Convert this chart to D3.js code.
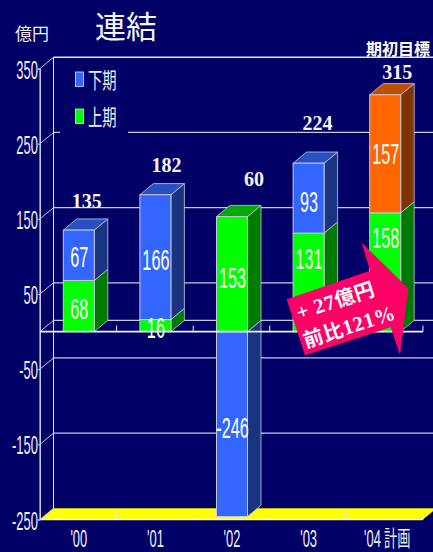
<!DOCTYPE html>
<html lang="ja">
<head>
<meta charset="utf-8">
<title>連結</title>
<script src="https://cdn.jsdelivr.net/npm/d3@7/dist/d3.min.js"></script>
<style>
html,body{margin:0;padding:0;background:#000066;overflow:hidden}
svg{display:block}
</style>
</head>
<body>
<svg id="chart" width="433" height="552"></svg>
<script>
// Consolidated results by fiscal year, in 億円
const categories = ["'00", "'01", "'02", "'03", "'04計画"];
const firstHalf = [68, 16, 153, 131, 158];
const secondHalf = [67, 166, -246, 93, 157];
const totals = [135, 182, 60, 224, 315];
const yTicks = [350, 250, 150, 50, -50, -150, -250];
const barColors = [
  { front: "#00ff00", side: "#007a00", top: "#00aa00" },   // 上期
  { front: "#3366ff", side: "#1a3580", top: "#2850c0" },   // 下期
  { front: "#ff6600", side: "#7f3300", top: "#bf4d00" }    // 計画の下期
];
const legendItems = [["下期", "#3366ff"], ["上期", "#00ff00"]];

// Hand placement of labels relative to their default anchor
const firstLabelShift = [2, 2, 3, -24, -35];
const secondLabelShift = [1, 2, 3, 3, 0];
const totalShift = [[8, -22], [11, -23], [22, -31], [9, -33.5], [12, -15.5]];

const SANS = "'Liberation Sans', Arial, sans-serif";
const SERIF = "'Liberation Serif', 'Times New Roman', serif";
const CJK = "'Noto Sans CJK JP', sans-serif";
const LINE = "#e4e4f0";
const GRID = "#c8c8dc";

const svg = d3.select("#chart");
const left = 40, right = 423, depthX = 13.5, depthY = -11.2, barWidth = 31;

const y = d3.scaleLinear().domain([-250, 350]).range([519.5, 68.5]);
const x = d3.scaleBand().domain(categories).range([left, right]).paddingInner(0).paddingOuter(0);
const barX = c => x(c) + (x.bandwidth() - barWidth) / 2 + 0.5;

// Text compressed horizontally, the way the narrow chart lettering is set
function narrow(g, str, px, py, size, sx, opts = {}) {
  return g.append("text")
    .attr("transform", `translate(${px},${py}) scale(${sx},1)`)
    .attr("text-anchor", opts.anchor || "middle")
    .attr("font-family", opts.family || SANS)
    .attr("font-weight", opts.weight || "normal")
    .attr("font-size", size)
    .attr("fill", opts.fill || "#fff")
    .text(str);
}

// Floor of the plot box
svg.append("polygon")
  .attr("points", [[left, y(-250)], [left + depthX, y(-250) + depthY], [right + depthX, y(-250) + depthY], [right, y(-250)]].join(" "))
  .attr("fill", "#ffff00");

// Back wall gridlines
const grid = svg.append("g");
grid.selectAll("line.back").data(yTicks.filter(t => t !== -250 && t !== 350)).join("line")
  .attr("x1", left + depthX).attr("x2", 433)
  .attr("y1", d => y(d) + depthY).attr("y2", d => y(d) + depthY)
  .attr("stroke", GRID).attr("stroke-width", 1.2);
grid.append("line")
  .attr("x1", left + depthX).attr("x2", 433)
  .attr("y1", y(0) + depthY).attr("y2", y(0) + depthY)
  .attr("stroke", GRID).attr("stroke-width", 1.2);
grid.append("line")
  .attr("x1", left + depthX).attr("x2", 433)
  .attr("y1", y(350) + depthY).attr("y2", y(350) + depthY)
  .attr("stroke", LINE).attr("stroke-width", 1.6);
grid.append("line")
  .attr("x1", left + depthX).attr("x2", left + depthX)
  .attr("y1", y(350) + depthY).attr("y2", y(-250) + depthY)
  .attr("stroke", LINE);

// Legend panel interrupts the 250 gridline
svg.append("rect").attr("x", 60).attr("y", 124).attr("width", 68).attr("height", 14).attr("fill", "#000066");

// Left wall: ticks, connectors to the back wall and the front vertical
const yAxis = d3.axisLeft(y).tickValues(yTicks).tickSize(2).tickFormat("");
svg.append("g").attr("transform", `translate(${left},0)`).call(yAxis)
  .call(g => g.selectAll("path,line").attr("stroke", GRID));
svg.append("g").selectAll("line").data(yTicks).join("line")
  .attr("x1", left).attr("x2", left + depthX)
  .attr("y1", d => y(d)).attr("y2", d => y(d) + depthY)
  .attr("stroke", GRID);
svg.append("line").attr("x1", left).attr("x2", left + depthX)
  .attr("y1", y(0)).attr("y2", y(0) + depthY).attr("stroke", GRID);

// Category ticks standing on the two front rails
[0, -250].forEach(level => {
  svg.append("g").selectAll("line").data(categories).join("line")
    .attr("x1", d => x(d) + x.bandwidth()).attr("x2", d => x(d) + x.bandwidth())
    .attr("y1", y(level)).attr("y2", y(level) - 6)
    .attr("stroke", LINE);
});

// One extruded bar segment between two values
function segment(g, c, v0, v1, col, withTop) {
  const bx = barX(c);
  const yTop = y(Math.max(v0, v1)), yBot = y(Math.min(v0, v1));
  g.append("polygon")
    .attr("points", [[bx + barWidth, yTop], [bx + barWidth + depthX, yTop + depthY], [bx + barWidth + depthX, yBot + depthY], [bx + barWidth, yBot]].join(" "))
    .attr("fill", col.side).attr("stroke", GRID).attr("stroke-width", 0.8);
  if (withTop) {
    g.append("polygon")
      .attr("points", [[bx, yTop], [bx + depthX, yTop + depthY], [bx + barWidth + depthX, yTop + depthY], [bx + barWidth, yTop]].join(" "))
      .attr("fill", col.top).attr("stroke", GRID).attr("stroke-width", 0.8);
  }
  g.append("rect")
    .attr("x", bx).attr("y", yTop).attr("width", barWidth).attr("height", yBot - yTop)
    .attr("fill", col.front).attr("stroke", GRID).attr("stroke-width", 1);
}

const bars = svg.append("g");
const labels = [];
categories.forEach((c, i) => {
  const a = firstHalf[i], b = secondHalf[i];
  const g = bars.append("g");
  const upperCol = i === 4 ? barColors[2] : barColors[1];
  labels.push([c, a, (y(0) + y(a)) / 2 + firstLabelShift[i]]);
  if (b < 0) {
    segment(g, c, 0, b, barColors[1], false);
    segment(g, c, 0, a, barColors[0], true);
    labels.push([c, b, (y(0) + y(b)) / 2 + secondLabelShift[i]]);
  } else {
    segment(g, c, 0, a, barColors[0], false);
    segment(g, c, a, a + b, upperCol, true);
    labels.push([c, b, (y(a) + y(a + b)) / 2 + secondLabelShift[i]]);
  }
});

// Front rails at zero and at the floor
[0, -250].forEach(level => {
  svg.append("line").attr("x1", left).attr("x2", right)
    .attr("y1", y(level)).attr("y2", y(level))
    .attr("stroke", "#f2f2fa").attr("stroke-width", 1.6);
});
svg.append("line").attr("x1", left).attr("x2", left)
  .attr("y1", y(350)).attr("y2", y(-250)).attr("stroke", GRID).attr("stroke-width", 1.2);

// Values inside the bars
labels.forEach(([c, v, cy]) => {
  narrow(svg, String(v), barX(c) + barWidth / 2 + 0.5, cy + 10.5, 29, 0.56);
});

// Totals above the bars
categories.forEach((c, i) => {
  const topVal = Math.max(firstHalf[i], firstHalf[i] + secondHalf[i]);
  const [dx, dy] = totalShift[i];
  svg.append("text")
    .attr("x", barX(c) + barWidth / 2 + dx)
    .attr("y", y(topVal) + dy)
    .attr("text-anchor", "middle")
    .attr("font-family", SERIF).attr("font-weight", "bold").attr("font-size", 20)
    .attr("fill", "#f4f4fa")
    .text(totals[i]);
});

// Value axis labels
yTicks.forEach(t => {
  narrow(svg, String(t), 38, y(t) + 10, 25, 0.52, { anchor: "end", fill: "#eeeef6" });
});

// Category labels
categories.forEach(c => {
  if (c.includes("計画")) {
    narrow(svg, "'04", 364, 547, 23.5, 0.55, { anchor: "start", fill: "#eeeef6" });
    narrow(svg, "計画", 384, 545.5, 22, 0.6, { anchor: "start", family: CJK, fill: "#eeeef6" });
  } else {
    narrow(svg, c, x(c) + x.bandwidth() / 2 + 0.5, 547, 23.5, 0.55, { fill: "#eeeef6" });
  }
});

// Titles
svg.append("text").attr("x", 95).attr("y", 38).attr("font-family", CJK).attr("font-size", 31)
  .attr("fill", "#f4f4fa").text("連結");
svg.append("text").attr("x", 15).attr("y", 40).attr("font-family", CJK).attr("font-size", 17)
  .attr("fill", "#eeeef6").text("億円");
svg.append("text").attr("x", 366).attr("y", 55).attr("font-family", CJK).attr("font-weight", "bold").attr("font-size", 16)
  .attr("fill", "#fff").text("期初目標");

// Legend
legendItems.forEach(([name, color], i) => {
  const top = 72 + i * 37;
  svg.append("rect").attr("x", 75.5).attr("y", top).attr("width", 8).attr("height", 14.5)
    .attr("fill", color).attr("stroke", LINE).attr("stroke-width", 0.8);
  narrow(svg, name, 88, top + 15.5, 22, 0.65, { anchor: "start", family: CJK, fill: "#eeeef6" });
});

// Call-out arrow for the year-on-year change
const callout = [[286.7, 299.3], [370, 270.7], [361.7, 242.7], [408.3, 288.3], [400, 355], [390.7, 327.3], [305, 355.3]];
svg.append("polygon").attr("points", callout.join(" ")).attr("fill", "#ff0066");
const line1 = svg.append("text").attr("transform", "translate(299,320) rotate(-18)").attr("fill", "#fff")
  .attr("font-family", SERIF).attr("font-weight", "bold").attr("font-size", 21).attr("letter-spacing", 0.5);
line1.append("tspan").text("+ 27");
line1.append("tspan").attr("font-family", CJK).attr("font-size", 20).text("億円");
const line2 = svg.append("text").attr("transform", "translate(306,348) rotate(-18)").attr("fill", "#fff")
  .attr("font-family", SERIF).attr("font-weight", "bold").attr("font-size", 21).attr("letter-spacing", 0.5);
line2.append("tspan").attr("font-family", CJK).attr("font-size", 20).text("前比");
line2.append("tspan").text("121%");
</script>
</body>
</html>
